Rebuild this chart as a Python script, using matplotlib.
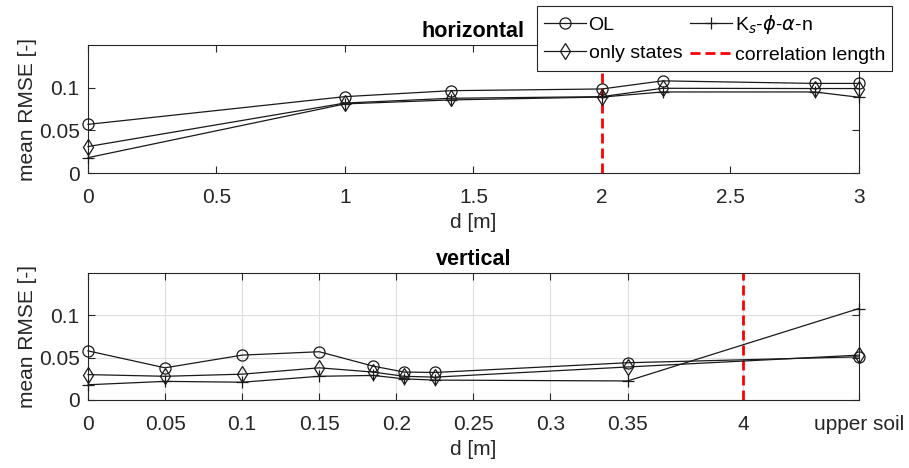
import matplotlib
matplotlib.use("Agg")
import matplotlib.pyplot as plt

plt.rcParams['font.family'] = ['Liberation Sans', 'DejaVu Sans']
plt.rcParams['mathtext.fontset'] = 'dejavusans'

# horizontal distances [m]
h_dist = [0, 1, 1.414, 2, 2.236, 2.828, 3]
h_ol = [0.057, 0.0895, 0.0965, 0.0985, 0.108, 0.105, 0.105]
h_states = [0.031, 0.082, 0.0876, 0.0895, 0.0993, 0.099, 0.099]
h_params = [0.018, 0.081, 0.0857, 0.089, 0.095, 0.095, 0.0888]
h_corr = 2

# vertical distances (last entries: "4" and "upper soil" on a category scale)
v_dist = [0, 0.05, 0.1, 0.15, 0.185, 0.205, 0.225, 0.35, 0.5]
v_ol = [0.058, 0.038, 0.053, 0.057, 0.040, 0.033, 0.0325, 0.044, 0.051]
v_states = [0.030, 0.028, 0.0305, 0.038, 0.033, 0.028, 0.027, 0.039, 0.053]
v_params = [0.018, 0.022, 0.021, 0.028, 0.029, 0.025, 0.0235, 0.0225, 0.108]
v_corr = 0.425
v_ticks = [0, 0.05, 0.1, 0.15, 0.2, 0.25, 0.3, 0.35, 0.425, 0.5]
v_ticklabels = ['0', '0.05', '0.1', '0.15', '0.2', '0.25', '0.3', '0.35', '4', 'upper soil']

txt = '#262626'
fs = 15

fig = plt.figure(figsize=(9.09, 4.68), dpi=100)
ax1 = fig.add_axes([0.0968, 0.6303, 0.848, 0.2735])
ax2 = fig.add_axes([0.0968, 0.1453, 0.848, 0.2714])


def draw(ax, x, ol, st, pa, corr):
    kw = dict(color='#1a1a1a', lw=0.9, mfc='none', mew=0.9, ms=8, clip_on=False, zorder=3)
    l1, = ax.plot(x, ol, marker='o', label='OL', **kw)
    l2, = ax.plot(x, st, marker='d', label='only states', **kw)
    l3, = ax.plot(x, pa, marker='+', label=r'K$_s$-$\phi$-$\alpha$-n', **kw)
    l4 = ax.axvline(corr, color='red', ls=(0, (3.6, 1.8)), lw=2, label='correlation length')
    ax.set_ylim(0, 0.15)
    ax.set_yticks([0, 0.05, 0.1])
    ax.set_yticklabels(['0', '0.05', '0.1'])
    ax.set_ylabel('mean RMSE [-]', fontsize=fs, color=txt, labelpad=1)
    ax.set_xlabel('d [m]', fontsize=fs, color=txt, labelpad=4)
    ax.tick_params(direction='in', top=True, right=True, labelsize=fs,
                   colors=txt, length=5, width=0.8)
    ax.tick_params(axis='x', pad=11)
    ax.tick_params(axis='y', pad=6)
    for s in ax.spines.values():
        s.set_color(txt)
        s.set_linewidth(0.8)
    return [l1, l2, l3, l4]


handles = draw(ax1, h_dist, h_ol, h_states, h_params, h_corr)
ax1.set_xlim(0, 3)
ax1.set_xticks([0, 0.5, 1, 1.5, 2, 2.5, 3])
ax1.set_xticklabels(['0', '0.5', '1', '1.5', '2', '2.5', '3'])
ax1.set_title('horizontal', fontsize=15.5, fontweight='bold', color='black', pad=6)

draw(ax2, v_dist, v_ol, v_states, v_params, v_corr)
ax2.set_xlim(0, 0.5)
ax2.set_xticks(v_ticks)
ax2.set_xticklabels(v_ticklabels)
ax2.grid(True, color='#dedede', lw=0.8)
ax2.set_axisbelow(True)
ax2.set_title('vertical', fontsize=15.5, fontweight='bold', color='black', pad=6)

# legend order (column-major): OL, only states | Ks, correlation length
leg = fig.legend(handles, [h.get_label() for h in handles], ncol=2,
                 loc='upper left', bbox_to_anchor=(537 / 909, 1 - 6 / 468),
                 fontsize=14, frameon=True, fancybox=False, framealpha=1,
                 edgecolor=txt, handlelength=2.15, handletextpad=0.15,
                 columnspacing=0.4, borderpad=0.35, labelspacing=0.55,
                 borderaxespad=0)
leg.get_frame().set_linewidth(0.8)
leg.set_zorder(10)

fig.savefig('out.png', dpi=100)
